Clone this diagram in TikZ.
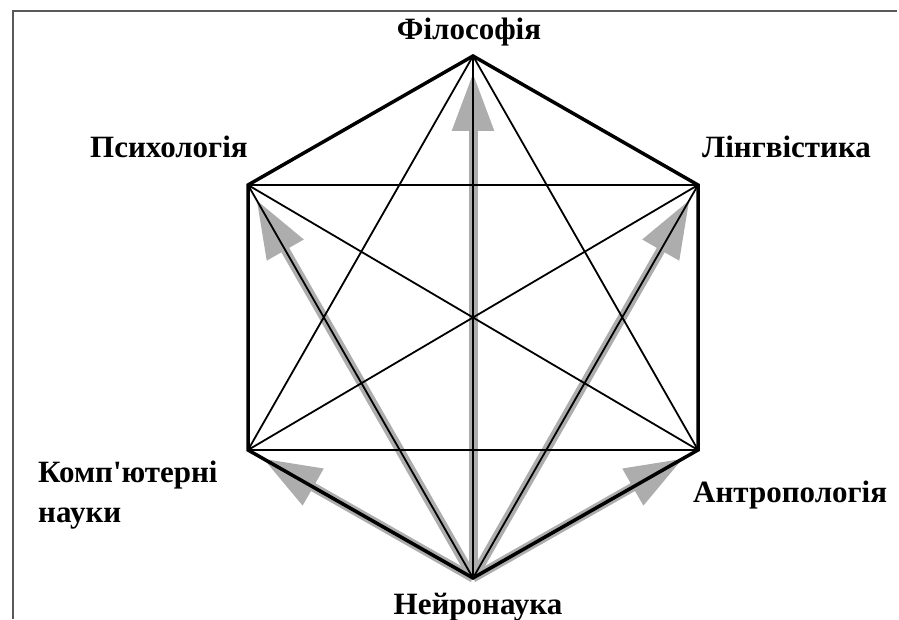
\documentclass[tikz,border=0pt]{standalone}
\usepackage{fontspec}
\setmainfont{Liberation Serif}[Ligatures=TeXOff]
\usetikzlibrary{arrows.meta}
\tikzset{
  hexedge/.style={line width=3.5pt, black, line join=miter},
  diag/.style={line width=1.8pt, black},
  flow/.style={line width=9pt, color=black!32, shorten >=17pt,
    -{Triangle[length=58pt,width=40pt]}},
  lbl/.style={inner sep=0pt, font=\fontsize{31}{36}\selectfont\bfseries},
  frame/.style={line width=2pt, color=black!65}
}
\begin{document}
\begin{tikzpicture}[x=1pt,y=1pt]
\useasboundingbox (0,0) rectangle (899,619);
\fill[white] (0,0) rectangle (899,619);
% frame
\coordinate (fa) at (13,0);
\coordinate (fb) at (13,608);
\coordinate (fc) at (897,608);
\draw[frame] (fa) -- (fb) -- (fc);
% vertices
\coordinate (F) at (473,563);
\coordinate (P) at (248,434);
\coordinate (L) at (698,434);
\coordinate (K) at (248,169);
\coordinate (A) at (698,169);
\coordinate (N) at (473,41);
% gray arrows from N
\foreach \t in {F,P,L,K,A} \draw[flow] (N) -- (\t);
% diagonals
\draw[diag] (F) -- (K) (F) -- (A) (F) -- (N)
            (P) -- (L) (P) -- (A) (P) -- (N)
            (L) -- (K) (L) -- (N)
            (K) -- (A);
% hexagon
\draw[hexedge] (F) -- (L) -- (A) -- (N) -- (K) -- (P) -- cycle;
% labels
\node[lbl, anchor=base] (tF) at (469,579) {Філософія};
\node[lbl, anchor=base west] (tP) at (90,461) {Психологія};
\node[lbl, anchor=base west] (tL) at (702,461) {Лінгвістика};
\node[lbl, anchor=base west] (tK) at (38,137) {Комп'ютерні};
\node[lbl, anchor=base west] (tK2) at (38,97) {науки};
\node[lbl, anchor=base west] (tA) at (693,117) {Антропологія};
\node[lbl, anchor=base] (tN) at (478,5) {Нейронаука};
\end{tikzpicture}
\end{document}
